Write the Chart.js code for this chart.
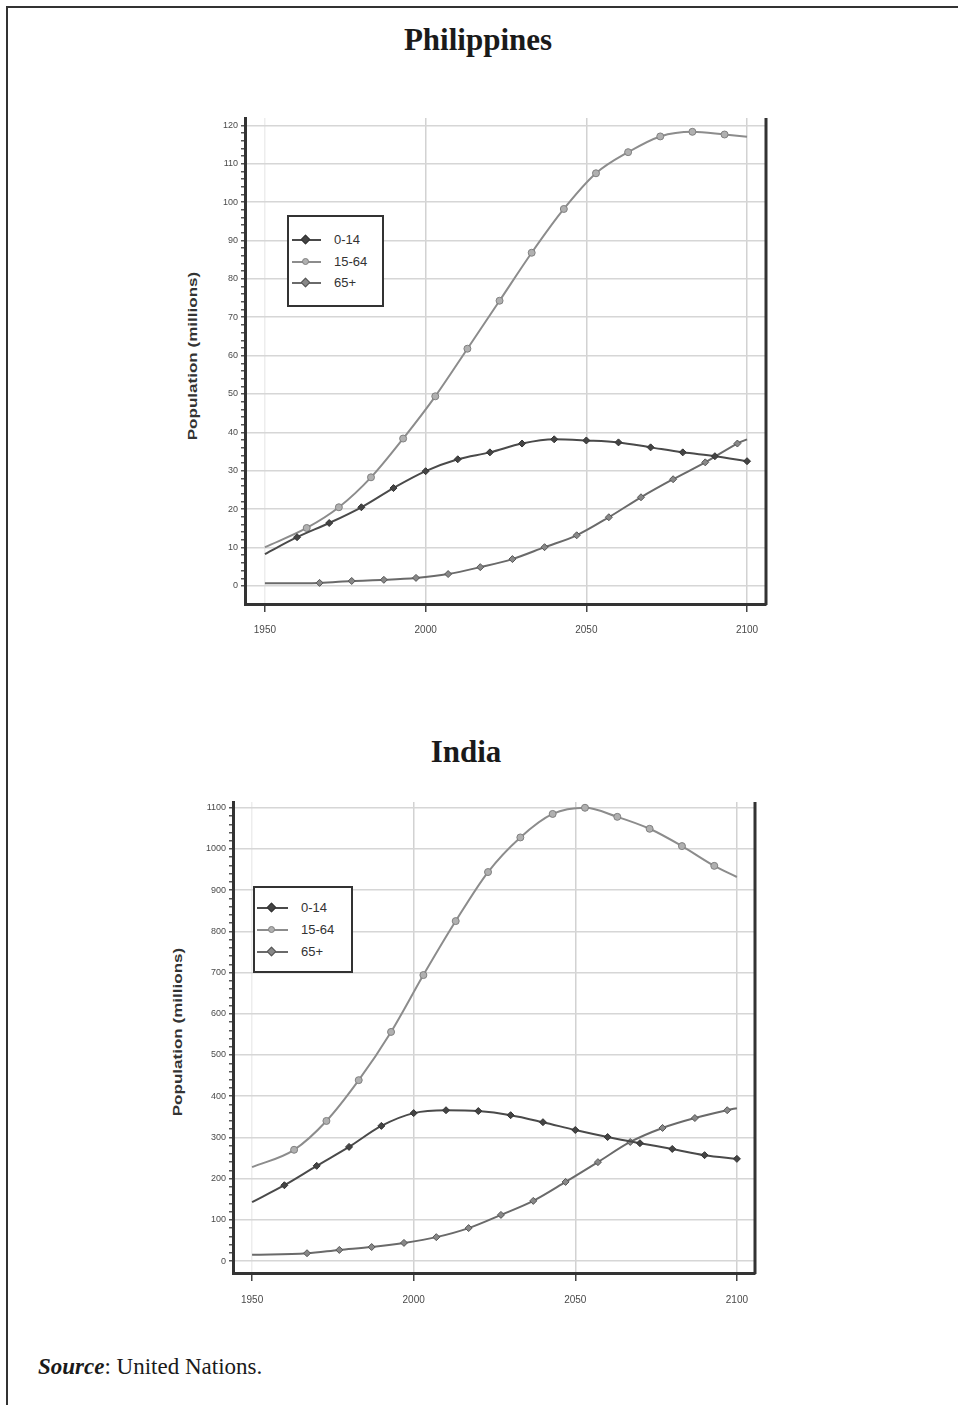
<!DOCTYPE html>
<html>
<head>
<meta charset="utf-8">
<script src="https://cdn.jsdelivr.net/npm/chart.js@4.4.1/dist/chart.umd.min.js"></script>
<style>
  body { margin: 0; background: #fff; width: 958px; height: 1405px; position: relative; overflow: hidden; font-family: "Liberation Sans", Arial, sans-serif; }
  .frame-top { position: absolute; left: 6px; top: 6px; width: 952px; height: 2px; background: #333; }
  .frame-left { position: absolute; left: 6px; top: 6px; width: 2px; height: 1399px; background: #333; }
  .title { position: absolute; font-family: "Liberation Serif", serif; font-weight: bold; font-size: 31px; color: #1a1a1a; transform: translate(-50%, -50%); white-space: nowrap; }
  .ytitle { position: absolute; font-size: 12px; font-weight: bold; color: #333; transform: translate(-50%, -50%) rotate(-90deg) scaleX(1.42); white-space: nowrap; }
  .legend { position: absolute; border: 2px solid #333; background: #fff; box-sizing: border-box; }
  .legend .row { position: absolute; left: 0; height: 0; }
  .legend .line { position: absolute; height: 2px; top: -1px; }
  .legend .mark { position: absolute; width: 7px; height: 7px; top: -4px; }
  .legend .txt { position: absolute; top: -8px; font-size: 13px; line-height: 16px; color: #333; white-space: nowrap; }
  .source { position: absolute; left: 38px; top: 1354px; font-family: "Liberation Serif", serif; font-size: 23px; color: #1a1a1a; white-space: nowrap; }
  canvas { position: absolute; }
</style>
</head>
<body>
<div class="frame-top"></div>
<div class="frame-left"></div>

<div class="title" style="left:478px; top:40px;">Philippines</div>
<div class="title" style="left:466px; top:752px;">India</div>

<div class="ytitle" style="left:193px; top:356px;">Population (millions)</div>
<div class="ytitle" style="left:178px; top:1032px;">Population (millions)</div>

<canvas id="chartPh" width="580" height="550" style="left:200px; top:100px;"></canvas>
<canvas id="chartIn" width="582" height="530" style="left:188px; top:785px;"></canvas>

<div class="legend" id="legendPh" style="left:287px; top:215px; width:97px; height:92px;"></div>
<div class="legend" id="legendIn" style="left:253px; top:886px; width:100px; height:87px;"></div>

<div class="source"><b><i>Source</i></b>: United Nations.</div>

<script>
// Philippines (millions)
const phYears014 = [1950, 1960, 1970, 1980, 1990, 2000, 2010, 2020, 2030, 2040, 2050, 2060, 2070, 2080, 2090, 2100];
const ph014 = [8.3, 12.7, 16.4, 20.5, 25.5, 29.9, 33.0, 34.8, 37.1, 38.2, 37.9, 37.4, 36.1, 34.8, 33.8, 32.5];
const phYears1564 = [1950, 1963, 1973, 1983, 1993, 2003, 2013, 2023, 2033, 2043, 2053, 2063, 2073, 2083, 2093, 2100];
const ph1564 = [10.1, 15.1, 20.5, 28.3, 38.4, 49.4, 61.8, 74.3, 86.8, 98.2, 107.5, 113.0, 117.1, 118.3, 117.6, 117.0];
const phYears65 = [1950, 1967, 1977, 1987, 1997, 2007, 2017, 2027, 2037, 2047, 2057, 2067, 2077, 2087, 2097, 2100];
const ph65 = [0.7, 0.8, 1.3, 1.6, 2.1, 3.1, 4.9, 7.0, 10.1, 13.2, 17.9, 23.1, 27.8, 32.2, 37.1, 38.2];

// India (millions)
const inYears014 = [1950, 1960, 1970, 1980, 1990, 2000, 2010, 2020, 2030, 2040, 2050, 2060, 2070, 2080, 2090, 2100];
const in014 = [143, 184, 231, 277, 328, 359, 366, 364, 354, 337, 318, 301, 286, 272, 257, 248];
const inYears1564 = [1950, 1963, 1973, 1983, 1993, 2003, 2013, 2023, 2033, 2043, 2053, 2063, 2073, 2083, 2093, 2100];
const in1564 = [228, 270, 340, 439, 556, 694, 825, 944, 1028, 1085, 1100, 1078, 1049, 1007, 959, 932];
const inYears65 = [1950, 1967, 1977, 1987, 1997, 2007, 2017, 2027, 2037, 2047, 2057, 2067, 2077, 2087, 2097, 2100];
const in65 = [15, 19, 27, 34, 44, 58, 80, 112, 146, 192, 240, 289, 323, 347, 366, 371];

// ticks
const xTicks = [1950, 2000, 2050, 2100];
const phYTicks = [0, 10, 20, 30, 40, 50, 60, 70, 80, 90, 100, 110, 120];
const inYTicks = [0, 100, 200, 300, 400, 500, 600, 700, 800, 900, 1000, 1100];

const seriesLabels = ['0-14', '15-64', '65+'];
const seriesStyle = [
  { line: '#4a4a4a', fill: '#444', border: '#333', point: 'rectRot' },
  { line: '#8c8c8c', fill: '#b0b0b0', border: '#808080', point: 'circle' },
  { line: '#6a6a6a', fill: '#888', border: '#555', point: 'rectRot' }
];

function pairs(xs, ys) {
  return xs.map((x, i) => ({ x: x, y: ys[i] }));
}

// draws the closing line on the right side of the plot
const rightBorder = {
  id: 'rightBorder',
  afterDraw(chart) {
    const { ctx, chartArea } = chart;
    ctx.save();
    ctx.strokeStyle = '#333';
    ctx.lineWidth = 3;
    ctx.beginPath();
    ctx.moveTo(chartArea.right, chartArea.top);
    ctx.lineTo(chartArea.right, chartArea.bottom + 1);
    ctx.stroke();
    ctx.restore();
  }
};

function makeChart(id, sets, cfg) {
  const datasets = sets.map((d, i) => ({
    label: seriesLabels[i],
    data: d,
    borderColor: seriesStyle[i].line,
    backgroundColor: seriesStyle[i].fill,
    pointBorderColor: seriesStyle[i].border,
    pointStyle: seriesStyle[i].point,
    borderWidth: 2,
    pointBorderWidth: 1,
    cubicInterpolationMode: 'monotone',
    pointRadius: ctx => {
      const x = ctx.raw.x;
      if (x === 1950) return 0;
      if (x === 2100 && i > 0) return 0;
      return 3.5;
    }
  }));

  const minorTicks = [];
  for (let v = 0; v <= cfg.yTicks[cfg.yTicks.length - 1]; v += cfg.minor) minorTicks.push(v);
  const major = cfg.yTicks[1] - cfg.yTicks[0];

  return new Chart(document.getElementById(id), {
    type: 'line',
    data: { datasets: datasets },
    plugins: [rightBorder],
    options: {
      responsive: false,
      animation: false,
      layout: { padding: cfg.padding },
      plugins: { legend: { display: false }, tooltip: { enabled: false } },
      scales: {
        x: {
          type: 'linear',
          min: cfg.xMin,
          max: cfg.xMax,
          afterBuildTicks: s => { s.ticks = xTicks.map(v => ({ value: v })); },
          afterFit: s => { s.height = cfg.xHeight; },
          border: { color: '#333', width: 3 },
          grid: {
            color: ctx => (ctx.tick && ctx.tick.value === 1950) ? '#ededed' : '#d2d2d2',
            lineWidth: 1.5,
            tickColor: '#444',
            tickLength: 8
          },
          ticks: {
            callback: v => String(v),
            autoSkip: false,
            maxRotation: 0,
            padding: cfg.xPad,
            color: '#4a4a4a',
            font: { family: 'Liberation Sans', size: 10 }
          }
        },
        y: {
          min: cfg.yMin,
          max: cfg.yMax,
          afterBuildTicks: s => { s.ticks = minorTicks.map(v => ({ value: v })); },
          afterFit: s => { s.width = 45; },
          border: { color: '#333', width: 3 },
          grid: {
            color: ctx => (ctx.tick && ctx.tick.value % major === 0) ? '#d6d6d6' : 'rgba(0,0,0,0)',
            lineWidth: 1.5,
            tickColor: '#555',
            tickLength: 4
          },
          ticks: {
            callback: v => (v % major === 0 ? String(v) : ''),
            autoSkip: false,
            padding: 3,
            color: '#4a4a4a',
            font: { family: 'Liberation Sans', size: 9 }
          }
        }
      }
    }
  });
}

makeChart('chartPh', [pairs(phYears014, ph014), pairs(phYears1564, ph1564), pairs(phYears65, ph65)], {
  xMin: 1943.8, xMax: 2105.9,
  yMin: -4.7, yMax: 121.9,
  yTicks: phYTicks, minor: 2,
  padding: { top: 18, right: 14, bottom: 6, left: 0 },
  xHeight: 40, xPad: 12
});

makeChart('chartIn', [pairs(inYears014, in014), pairs(inYears1564, in1564), pairs(inYears65, in65)], {
  xMin: 1944.1, xMax: 2105.6,
  yMin: -29, yMax: 1114,
  yTicks: inYTicks, minor: 20,
  padding: { top: 17, right: 15, bottom: 6, left: 0 },
  xHeight: 36, xPad: 13
});

// legends inside the plots
function makeLegend(id, rows, lineX, lineW, markX, textX) {
  const box = document.getElementById(id);
  seriesLabels.forEach((lab, i) => {
    const st = seriesStyle[i];
    const row = document.createElement('div');
    row.className = 'row';
    row.style.top = rows[i] + 'px';
    const line = document.createElement('div');
    line.className = 'line';
    line.style.left = lineX + 'px';
    line.style.width = lineW + 'px';
    line.style.background = st.line;
    const mark = document.createElement('div');
    mark.className = 'mark';
    mark.style.left = (markX - 4) + 'px';
    mark.style.background = st.fill;
    mark.style.border = '1px solid ' + st.border;
    mark.style.boxSizing = 'border-box';
    if (st.point === 'circle') mark.style.borderRadius = '50%';
    else mark.style.transform = 'rotate(45deg)';
    const txt = document.createElement('div');
    txt.className = 'txt';
    txt.style.left = textX + 'px';
    txt.innerHTML = lab;
    row.appendChild(line);
    row.appendChild(mark);
    row.appendChild(txt);
    box.appendChild(row);
  });
}

makeLegend('legendPh', [23, 45, 66], 3, 29, 17, 45);
makeLegend('legendIn', [20, 42, 64], 2, 31, 17, 46);
</script>
</body>
</html>
